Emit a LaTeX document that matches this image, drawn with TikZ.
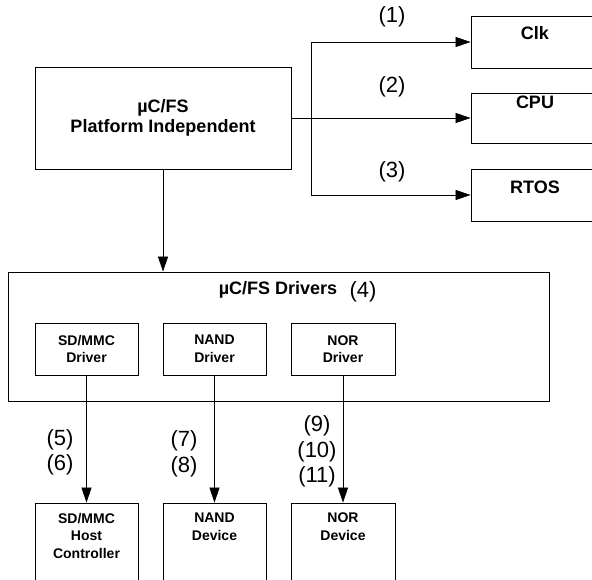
\documentclass[tikz,border=0pt]{standalone}
\usepackage{fontspec}
\setmainfont{Liberation Sans}
\usetikzlibrary{arrows.meta}
\begin{document}
\begin{tikzpicture}[x=1pt,y=-1pt,
  box/.style={draw, line width=0.8pt, rectangle, inner sep=0pt},
  arr/.style={-{Triangle[length=15pt,width=10pt]}, line width=0.75pt},
  big/.style={font=\bfseries\fontsize{18}{20}\selectfont, align=center},
  small/.style={font=\bfseries\fontsize{14}{17.5}\selectfont, align=center},
  lab/.style={font=\fontsize{22}{25.5}\selectfont, align=center, inner sep=0pt}]
\useasboundingbox (0,0) rectangle (592,580);
\clip (0,0) rectangle (592,580);
% top part
\node[box, big, minimum width=256pt, minimum height=102pt] (plat) at (163,118) {µC/FS\\Platform Independent};
\node[box, minimum width=128pt, minimum height=52pt] (clk) at (535,42) {};
\node[box, minimum width=128pt, minimum height=50pt] (cpu) at (535,118) {};
\node[box, minimum width=128pt, minimum height=52pt] (rtos) at (535,195) {};
\node[big, inner sep=0pt] (clkt) at (535,33) {Clk};
\node[big, inner sep=0pt] (cput) at (535,102) {CPU};
\node[big, inner sep=0pt] (rtost) at (535,187) {RTOS};
\coordinate (br) at (311,118);
\draw[arr] (plat.east) -- (cpu.west);
\draw[arr] (br) |- (clk.west);
\draw[arr] (br) |- (rtos.west);
\node[lab] (l1) at (392,17) {(1)};
\node[lab] (l2) at (392,87) {(2)};
\node[lab] (l3) at (392,172) {(3)};
% drivers
\node[box, minimum width=541pt, minimum height=129pt] (drv) at (278.5,336.5) {};
\node[big, inner sep=0pt] (drvt) at (278,290) {µC/FS Drivers};
\node[lab] (l4) at (363,292) {(4)};
\draw[arr] (plat.south) -- (plat.south |- drv.north);
\node[box, small, minimum width=103pt, minimum height=52pt] (sd) at (86.5,349) {SD/MMC\\Driver};
\node[box, small, minimum width=103pt, minimum height=52pt] (nand) at (214.5,349) {NAND\\Driver};
\node[box, small, minimum width=104pt, minimum height=52pt] (nor) at (343,349) {NOR\\Driver};
% devices
\node[box, minimum width=103pt, minimum height=117pt] (sdh) at (86.5,561.5) {};
\node[box, minimum width=103pt, minimum height=117pt] (nandd) at (214.5,561.5) {};
\node[box, minimum width=104pt, minimum height=117pt] (nord) at (343,561.5) {};
\node[small, inner sep=0pt, anchor=north] (sdht) at (86.5,513) {SD/MMC\\Host\\Controller};
\node[small, inner sep=0pt, anchor=north] (nanddt) at (214.5,513) {NAND\\Device};
\node[small, inner sep=0pt, anchor=north] (nordt) at (343,513) {NOR\\Device};
\draw[arr] (sd.south) -- (sdh.north);
\draw[arr] (nand.south) -- (nandd.north);
\draw[arr] (nor.south) -- (nord.north);
\node[lab] (l56) at (60,452.5) {(5)\\(6)};
\node[lab] (l78) at (184,454) {(7)\\(8)};
\node[lab] (l911) at (317,451.5) {(9)\\(10)\\(11)};
\end{tikzpicture}
\end{document}
